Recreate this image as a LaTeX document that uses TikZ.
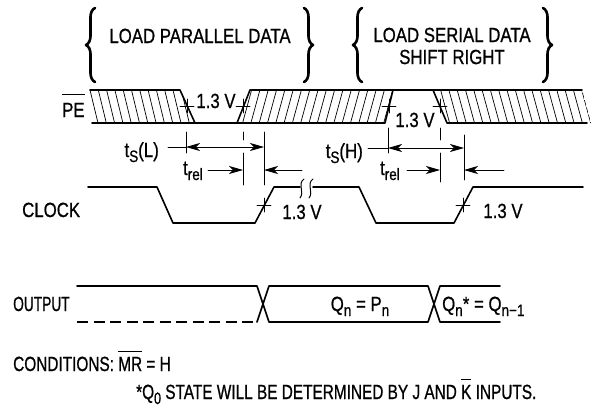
\documentclass[tikz,border=0pt]{standalone}
\usepackage{fontspec}
\setmainfont[FakeStretch=0.82,FakeBold=0.8]{Liberation Sans}
\newfontfamily\outfont[FakeStretch=0.67,FakeBold=0.8]{Liberation Sans}
\newfontfamily\notefont[FakeStretch=0.75,FakeBold=0.8]{Liberation Sans}
\usetikzlibrary{arrows.meta, calc}
\usetikzlibrary{decorations.pathreplacing}

\newsavebox{\barbox}
\newcommand{\topbar}[2][5pt]{%
  \sbox{\barbox}{#2}%
  \rlap{\raisebox{\dimexpr\ht\barbox+#1\relax}{\rule{\wd\barbox}{0.9pt}}}%
  \usebox{\barbox}}
\newcommand{\lowsub}[1]{\raisebox{-5pt}{\fontsize{16.5}{16.5}\selectfont #1}}

\tikzset{
  wave/.style={line width=1.6pt},
  hatch/.style={line width=0.7pt},
  dim/.style={line width=0.8pt},
  cross/.style={line width=0.8pt},
  lbl/.style={font=\fontsize{20.5}{22}\selectfont, inner sep=0pt},
  bracket/.style={decorate, decoration={brace, amplitude=9pt, aspect=0.5}, line width=2.6pt},
}

\begin{document}
\begin{tikzpicture}[line cap=round, line join=round, >={Stealth[length=14pt,width=8pt,inset=4pt]}, x=1pt, y=-1pt]
    \useasboundingbox (0,0) rectangle (611,413);

    % braces and titles
    \draw [bracket] (95,82) -- (95,8);
    \draw [bracket] (304,8) -- (304,82);
    \draw [bracket] (362,82) -- (362,8);
    \draw [bracket] (543,8) -- (543,82);
    \node [lbl, anchor=base] (load1) at (200,43) {LOAD PARALLEL DATA};
    \node [lbl, align=center] (load2) at (452,46) {LOAD SERIAL DATA\\SHIFT RIGHT};

    % PE
    \coordinate (PA0) at (92,123);
    \coordinate (PA1) at (90,90);
    \coordinate (PA2) at (180,90);
    \coordinate (PA3) at (195,123);
    \coordinate (PB1) at (237,123);
    \coordinate (PB2) at (250,90);
    \coordinate (PB3) at (393,90);
    \coordinate (PB4) at (385,123);
    \coordinate (PC1) at (433,90);
    \coordinate (PC2) at (447,123);
    \coordinate (PC3) at (582,90);
    \coordinate (PC4) at (587,123);

    \begin{scope}
      \clip (88,90) -- (PA2) -- (PA3) -- (96,123) -- cycle;
      \foreach \x in {90,98.3,...,200} \draw [hatch] (\x,90) -- ({\x+8},123);
    \end{scope}
    \begin{scope}
      \clip (PB1) -- (PB2) -- (PB3) -- (PB4) -- cycle;
      \foreach \x in {226,234.3,...,400} \draw [hatch] (\x,123) -- ({\x+9},90);
    \end{scope}
    \begin{scope}
      \clip (PC1) -- (PC3) -- (591,123) -- (PC2) -- cycle;
      \foreach \x in {424,432.3,...,590} \draw [hatch] (\x,90) -- ({\x+9},123);
    \end{scope}

    \draw [-,wave] (PA1)--(PA2)--(PA3);
    \draw [-,wave] (PA0)--(PB4)--(PB3);
    \draw [-,wave] (PB1)--(PB2)--(PC3);
    \draw [-,wave] (PC1)--(PC2)--(PC4);

    \node [lbl, anchor=base west] (pe) at (62,117) {\topbar[8pt]{PE}};

    % 1.3 V crossings
    \foreach \p in {(187,106),(243,106),(389,106),(440,106),(264,205),(463,205)}
      \draw [cross] \p ++(-7,0) -- ++(14,0) \p ++(0,-7) -- ++(0,14);
    \node [lbl, anchor=base] (v1) at (216,108) {1.3 V};
    \node [lbl, anchor=base] (v2) at (415,127) {1.3 V};
    \node [lbl, anchor=base] (v3) at (302,219) {1.3 V};
    \node [lbl, anchor=base] (v4) at (503,218) {1.3 V};

    % timing, left
    \draw [-,dim] (186,132) -- (186,153);
    \draw [-,dim] (243,132) -- (243,140);
    \draw [-,dim] (243,153) -- (243,185);
    \draw [-,dim] (264,132) -- (264,185);
    \draw [-,dim] (168,147) -- (186,147);
    \draw [<->,dim] (186,147) -- (264,147);
    \draw [->,dim] (208,170) -- (243,170);
    \draw [->,dim] (302,170) -- (264,170);
    \node [lbl, anchor=base east] (tsl) at (159,157) {t\lowsub{S}(L)};
    \node [lbl, anchor=base east] (trl) at (203,175) {t\lowsub{rel}};

    % timing, right
    \draw [-,dim] (388,128) -- (388,153);
    \draw [-,dim] (440,128) -- (440,140);
    \draw [-,dim] (440,153) -- (440,182);
    \draw [-,dim] (464,135) -- (464,180);
    \draw [-,dim] (368,148) -- (388,148);
    \draw [<->,dim] (388,148) -- (464,148);
    \draw [->,dim] (407,170) -- (440,170);
    \draw [->,dim] (504,170) -- (464,170);
    \node [lbl, anchor=base east] (tsh) at (363,158) {t\lowsub{S}(H)};
    \node [lbl, anchor=base east] (trh) at (400,175) {t\lowsub{rel}};

    % clock
    \coordinate (C1) at (88,187);
    \coordinate (C2) at (157,187);
    \coordinate (C3) at (173,223);
    \coordinate (C4) at (255,223);
    \coordinate (C5) at (274,187);
    \coordinate (C6) at (300,187);
    \coordinate (C7) at (313,187);
    \coordinate (C8) at (359,187);
    \coordinate (C9) at (376,223);
    \coordinate (C10) at (454,223);
    \coordinate (C11) at (473,187);
    \coordinate (C12) at (583,187);
    \draw [-,wave] (C1)--(C2)--(C3)--(C4)--(C5)--(C6);
    \draw [-,wave] (C7)--(C8)--(C9)--(C10)--(C11)--(C12);
    \draw [line width=1pt] (304,179) .. controls (297,184) and (305,192) .. (300,198);
    \draw [line width=1pt] (313,179) .. controls (306,184) and (314,192) .. (309,198);
    \node [lbl, anchor=base west] (clk) at (22,217) {CLOCK};

    % output
    \coordinate (O0) at (77,322);
    \coordinate (O1) at (77,286);
    \coordinate (O2) at (257,286);
    \coordinate (O3) at (269,322);
    \coordinate (O4) at (257,322);
    \coordinate (O5) at (269,286);
    \coordinate (O6) at (428,286);
    \coordinate (O7) at (440,322);
    \coordinate (O8) at (428,322);
    \coordinate (O9) at (440,286);
    \coordinate (O10) at (500,286);
    \coordinate (O11) at (500,322);
    \draw [-,wave] (O1)--(O2)--(O3)--(O8)--(O9)--(O10);
    \draw [-,wave] (O4)--(O5)--(O6)--(O7)--(O11);
    \draw [dashed,wave,line cap=butt,dash pattern=on 11pt off 5.5pt] (O0)--(O4);
    \node [lbl, anchor=base west] (out) at (13,311) {\outfont OUTPUT};
    \node [lbl, anchor=base] (qp) at (360,311) {Q\lowsub{n} = P\lowsub{n}};
    \node [lbl, anchor=base west] (qq) at (442,311) {Q\lowsub{n}* = Q\lowsub{n−1}};

    % notes
    \node [lbl, anchor=base west] (cond) at (13,371) {\notefont CONDITIONS: \topbar{MR} = H};
    \node [lbl, anchor=base west] (note) at (136,399) {\notefont *Q\lowsub{0} STATE WILL BE DETERMINED BY J AND \topbar{K} INPUTS.};
\end{tikzpicture}
\end{document}
